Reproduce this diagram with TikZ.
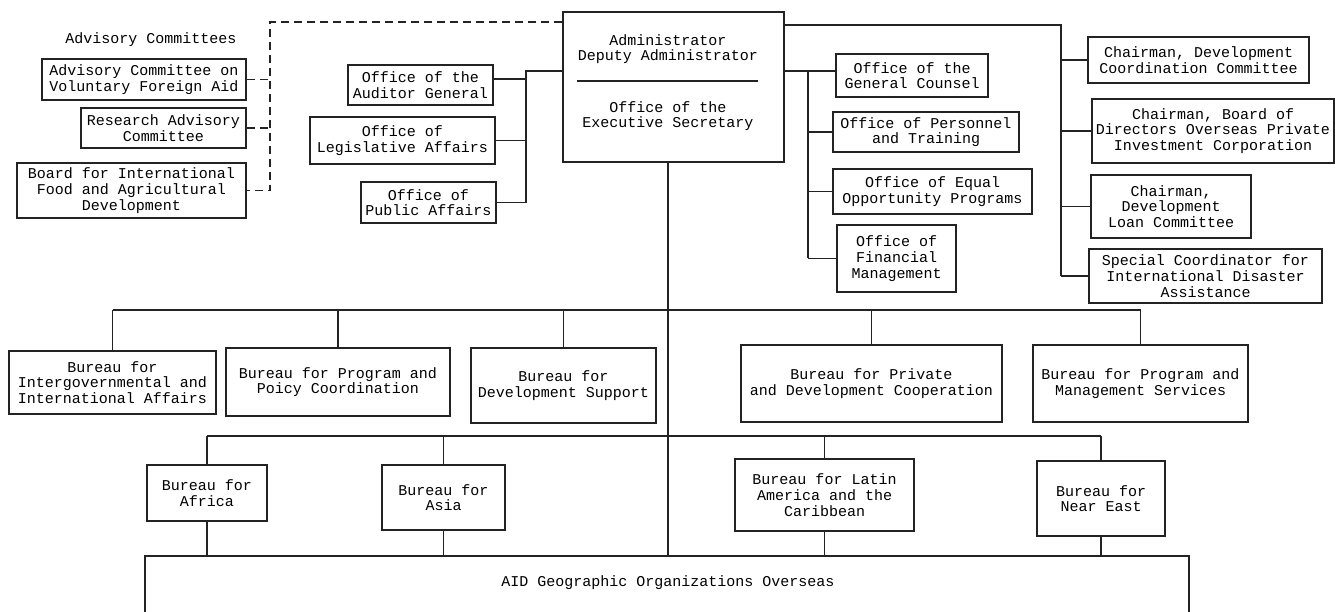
\documentclass[tikz,border=0pt]{standalone}
\usepackage{fontspec}
\setmainfont{Liberation Mono}
\usepackage{tikz}

\begin{document}
\begin{tikzpicture}[x=1pt, y=-1pt, line width=1.2pt,
  every node/.style={font=\fontsize{15}{15.7}\selectfont, align=center, inner sep=1pt},
  box/.style 2 args={draw=grisLinea, minimum width=#1pt, minimum height=#2pt},
  link/.style={draw=grisLinea},
  advlink/.style={draw=grisLinea, line width=1.8pt, dash pattern=on 8pt off 5pt}]
  \definecolor{grisLinea}{RGB}{35,35,35}

  \useasboundingbox (0,0) rectangle (1335,612);

  % advisory committees
  \node (advhead) at (151,40) {Advisory Committees};
  \node[box={204}{41}] (acvfa) at (144,79.5)   {Advisory Committee on\\Voluntary Foreign Aid};
  \node[box={165}{40}] (rac)   at (163.5,128)  {Research Advisory\\Committee};
  \node[box={229}{55}] (bifad) at (131.5,190.5) {Board for International\\Food and Agricultural\\Development};

  % administrator
  \node[box={221}{150}] (admin) at (673.5,87) {};
  \node (adminname) at (668,49)  {Administrator\\Deputy Administrator};
  \node (execsec)   at (668,116) {Office of the\\Executive Secretary};
  \draw[link] (577,81) -- (758,81);

  % staff offices
  \node[box={145}{40}] (oag)  at (420.5,85)    {Office of the\\Auditor General};
  \node[box={185}{47}] (ola)  at (402.5,140.5) {Office of\\Legislative Affairs};
  \node[box={135}{41}] (opa)  at (428.5,202.5) {Office of\\Public Affairs};
  \node[box={152}{43}] (ogc)  at (912,75.5)    {Office of the\\General Counsel};
  \node[box={186}{40}] (opt)  at (926,132)     {Office of Personnel\\and Training};
  \node[box={199}{45}] (oeop) at (932.5,191.5) {Office of Equal\\Opportunity Programs};
  \node[box={119}{67}] (ofm)  at (896.5,258.5) {Office of\\Financial\\Management};

  % chairmen
  \node[box={221}{46}] (dcc)  at (1198.5,60)   {Chairman, Development\\Coordination Committee};
  \node[box={242}{64}] (opic) at (1213,131)    {Chairman, Board of\\Directors Overseas Private\\Investment Corporation};
  \node[box={160}{63}] (dlc)  at (1171,206.5)  {Chairman,\\Development\\Loan Committee};
  \node[box={233}{54}] (sdc)  at (1205.5,276)  {Special Coordinator for\\International Disaster\\Assistance};

  % central bureaus
  \node[box={207}{63}] (bia)  at (112.5,382.5) {Bureau for\\Intergovernmental and\\International Affairs};
  \node[box={224}{68}] (bppc) at (338,382)     {Bureau for Program and\\Poicy Coordination};
  \node[box={185}{75}] (bds)  at (563.5,385.5) {Bureau for\\Development Support};
  \node[box={261}{77}] (bpdc) at (871.5,383.5) {Bureau for Private\\and Development Cooperation};
  \node[box={215}{77}] (bpms) at (1140.5,383.5) {Bureau for Program and\\Management Services};

  % regional bureaus
  \node[box={120}{56}] (baf)  at (207,493)     {Bureau for\\Africa};
  \node[box={123}{65}] (bas)  at (443.5,497.5) {Bureau for\\Asia};
  \node[box={179}{72}] (blac) at (824.5,495)   {Bureau for Latin\\America and the\\Caribbean};
  \node[box={128}{75}] (bne)  at (1101,498.5)  {Bureau for\\Near East};

  % missions (box runs off the page)
  \node[box={1044}{90}] (overseas) at (667,601) {};
  \node (geotext) at (668,583) {AID Geographic Organizations Overseas};

  % dashed advisory links
  \coordinate (advbus) at (270,22);
  \draw[advlink] (admin.west |- advbus) -- (advbus) -- (advbus |- bifad.east) -- (bifad.east);
  \draw[advlink] (acvfa.east) -- (acvfa.east -| advbus);
  \draw[advlink] (rac.east) -- (rac.east -| advbus);

  % left staff
  \coordinate (lbus) at (526,71);
  \draw[link] (admin.west |- lbus) -- (lbus) -- (lbus |- opa.east) -- (opa.east);
  \draw[link] ([yshift=6pt]oag.east) -- ([yshift=6pt]oag.east -| lbus);
  \draw[link] (ola.east) -- (ola.east -| lbus);

  % right staff
  \coordinate (rbus) at (808,71);
  \draw[link] (admin.east |- rbus) -- (ogc.west |- rbus);
  \draw[link] (rbus) -- (rbus |- ofm.west);
  \foreach \n in {opt,oeop,ofm}
    \draw[link] (\n.west) -- (\n.west -| rbus);

  % chairmen
  \coordinate (cbus) at (1061,25);
  \draw[link] (admin.east |- cbus) -- (cbus) -- (cbus |- sdc.west);
  \foreach \n in {dcc,opic,dlc,sdc}
    \draw[link] (\n.west) -- (\n.west -| cbus);

  % trunk
  \coordinate (trunk) at (668,162);
  \coordinate (bus1) at (668,310);
  \coordinate (bus2) at (668,436);
  \draw[link] (trunk) -- (trunk |- overseas.north);

  \draw[link] (bia.north |- bus1) -- (bpms.north |- bus1);
  \foreach \n in {bia,bppc,bds,bpdc,bpms}
    \draw[link] (\n.north) -- (\n.north |- bus1);

  \draw[link] (baf.north |- bus2) -- (bne.north |- bus2);
  \foreach \n in {baf,bas,blac,bne} {
    \draw[link] (\n.north) -- (\n.north |- bus2);
    \draw[link] (\n.south) -- (\n.south |- overseas.north);
  }
\end{tikzpicture}
\end{document}
